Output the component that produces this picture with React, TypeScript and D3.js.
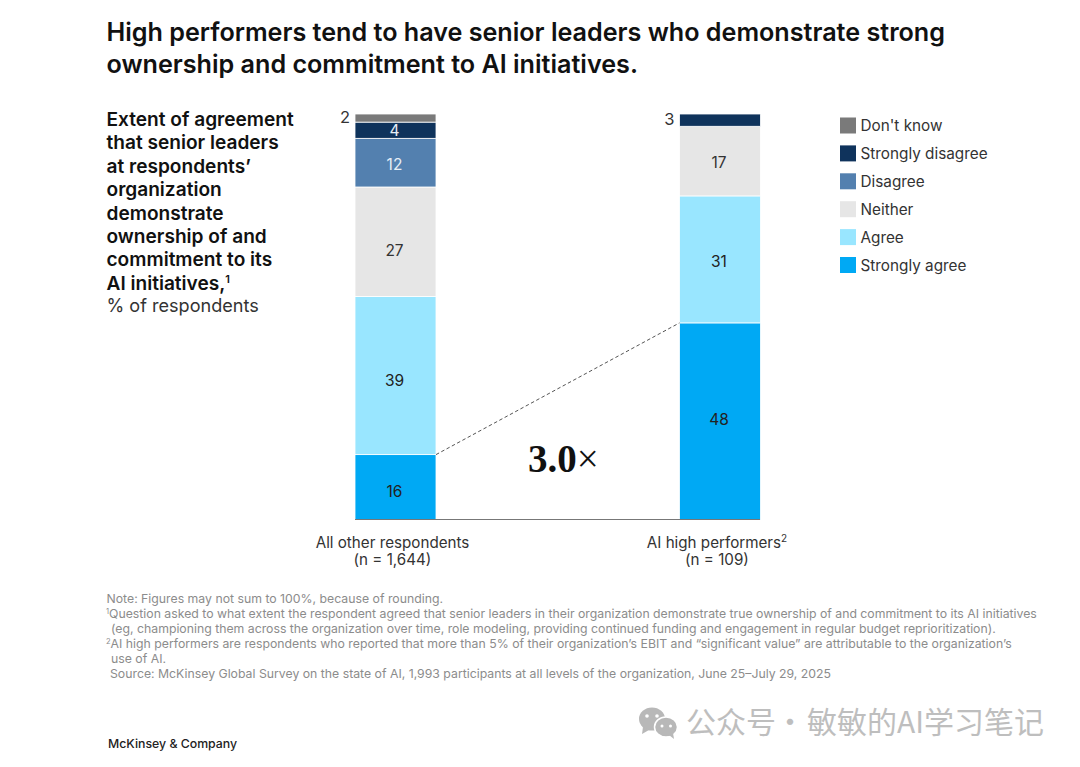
import * as d3 from "d3";

const TITLE = [
  "High performers tend to have senior leaders who demonstrate strong",
  "ownership and commitment to AI initiatives.",
];
const SUBTITLE = [
  "Extent of agreement",
  "that senior leaders",
  "at respondents’",
  "organization",
  "demonstrate",
  "ownership of and",
  "commitment to its",
];

const responses = ["Strongly agree", "Agree", "Neither", "Disagree", "Strongly disagree", "Don't know"];
const colors = ["#00A9F4", "#99E6FF", "#E6E6E6", "#5380AF", "#0F335C", "#7A7A7A"];
const labelColors = ["#222222", "#222222", "#333333", "#E6EEF6", "#E6EEF6", "#333333"];

const otherValues = [16, 39, 27, 12, 4, 2];
const highValues = [48, 31, 17, 0, 3, 0];

const NOTES = [
  "Note: Figures may not sum to 100%, because of rounding.",
  "Question asked to what extent the respondent agreed that senior leaders in their organization demonstrate true ownership of and commitment to its AI initiatives",
  "(eg, championing them across the organization over time, role modeling, providing continued funding and engagement in regular budget reprioritization).",
  "AI high performers are respondents who reported that more than 5% of their organization’s EBIT and “significant value” are attributable to the organization’s",
  "use of AI.",
  "Source: McKinsey Global Survey on the state of AI, 1,993 participants at all levels of the organization, June 25–July 29, 2025",
];

const SANS = "Inter, 'Liberation Sans', sans-serif";
const CJK = "'Noto Sans CJK SC', sans-serif";

const top = 114;
const base = 519.5;
const barW = 81;

// the original labels don't sit exactly mid-segment
const otherNudge = [4, 4, 8, 1, 0, 0];
const highNudge = [-2, 2, 1, 0, 0, 0];

function Bar({ values, x, nudge }: { values: number[]; x: number; nudge: number[] }) {
  // each column is stretched to full height because rounded values don't always sum to 100
  const y = d3.scaleLinear().domain([0, d3.sum(values)]).range([base, top]);
  const row = Object.fromEntries(responses.map((r, i) => [r, values[i]]));
  const series = d3.stack<any>().keys(responses)([row]);
  return (
    <g>
      {series.map((s, i) => {
        const [y0, y1] = s[0];
        if (y1 === y0) return null;
        const v = values[i];
        const mid = (y(y0) + y(y1)) / 2 + nudge[i];
        const outside = v < 4;
        return (
          <g key={s.key}>
            <rect x={x} y={y(y1)} width={barW} height={y(y0) - y(y1)} fill={colors[i]} stroke="#fff" strokeWidth={0.8} />
            <text
              x={outside ? x - 5 : x + barW / 2 - 1}
              y={outside ? mid - 1 : mid + 0.5}
              textAnchor={outside ? "end" : "middle"}
              dominantBaseline="central"
              fontSize={outside ? 16.5 : 15.5}
              fill={outside ? "#333" : labelColors[i]}
            >
              {v}
            </text>
          </g>
        );
      })}
    </g>
  );
}

export default function App() {
  const otherY = d3.scaleLinear().domain([0, d3.sum(otherValues)]).range([base, top]);
  const highY = d3.scaleLinear().domain([0, d3.sum(highValues)]).range([base, top]);
  const legendOrder = d3.range(responses.length).reverse();

  return (
    <svg
      width={1080}
      height={767}
      viewBox="0 0 1080 767"
      style={{ position: "absolute", left: 0, top: 0, background: "#fff" }}
      fontFamily={SANS}
    >
      {TITLE.map((t, i) => (
        <text key={i} x={106.5} y={40.5 + i * 32} fontSize={25.15} fontWeight={600} fill="#111">
          {t}
        </text>
      ))}

      {SUBTITLE.map((t, i) => (
        <text key={i} x={106.5} y={126 + i * 23.4} fontSize={19.1} fontWeight={600} fill="#111">
          {t}
        </text>
      ))}
      <text x={106.5} y={289.5} fontSize={19.1} fontWeight={600} fill="#111">
        AI initiatives,
        <tspan fontSize={11} dy={-7}>1</tspan>
      </text>
      <text x={106.5} y={312} fontSize={18.1} fill="#333">% of respondents</text>

      <Bar values={otherValues} x={355} nudge={otherNudge} />
      <Bar values={highValues} x={679.5} nudge={highNudge} />

      <line x1={355} x2={760} y1={base} y2={base} stroke="#777" strokeWidth={1} />
      <line
        x1={436}
        y1={otherY(otherValues[0])}
        x2={679.5}
        y2={highY(highValues[0])}
        stroke="#555"
        strokeWidth={1}
        strokeDasharray="3.5 2.5"
      />
      <text x={528} y={472} fontFamily="'Liberation Serif', serif" fontSize={39} fontWeight={700} fill="#111">
        3.0<tspan fontWeight={400}>×</tspan>
      </text>

      <g fontSize={15.2} fill="#333" textAnchor="middle">
        <text x={392.5} y={548}>All other respondents</text>
        <text x={392.5} y={565}>(n = 1,644)</text>
        <text x={717} y={548}>
          AI high performers<tspan fontSize={10} dy={-6}>2</tspan>
        </text>
        <text x={717} y={565}>(n = 109)</text>
      </g>

      {legendOrder.map((i, k) => (
        <g key={responses[i]} transform={`translate(840,${117.5 + k * 27.9})`}>
          <rect width={16} height={16} fill={colors[i]} />
          <text x={20.5} y={8} dominantBaseline="central" fontSize={15.3} fill="#333">
            {responses[i]}
          </text>
        </g>
      ))}

      <g fontSize={12.27} fill="#8C8C8C">
        <text x={106.5} y={603}>{NOTES[0]}</text>
        <text x={106} y={618}>
          <tspan fontSize={7.5} dy={-4}>1</tspan>
          <tspan dy={4}>{NOTES[1]}</tspan>
        </text>
        <text x={111} y={633}>{NOTES[2]}</text>
        <text x={106} y={648}>
          <tspan fontSize={7.5} dy={-4}>2</tspan>
          <tspan dy={4}>{NOTES[3]}</tspan>
        </text>
        <text x={111} y={663}>{NOTES[4]}</text>
        <text x={110} y={678}>{NOTES[5]}</text>
      </g>

      <text x={108} y={748} fontSize={12.3} fontWeight={500} fill="#222">McKinsey &amp; Company</text>

      <g fill="#B8B8B8">
        <ellipse cx={652} cy={719} rx={13} ry={11.5} />
        <path d="M643 727 l-1 7 l7 -4 z" />
        <ellipse cx={666} cy={727} rx={11.5} ry={10} stroke="#fff" strokeWidth={1.5} />
        <path d="M669 735 l5 4 l-1 -6 z" />
      </g>
      <g fill="#fff">
        <circle cx={647} cy={716} r={1.8} />
        <circle cx={657} cy={716} r={1.8} />
        <circle cx={662} cy={726} r={1.5} />
        <circle cx={670.5} cy={726} r={1.5} />
      </g>
      <g fontFamily={CJK} fontSize={30} fill="#BEBEBE">
        <text x={686} y={733}>公众号</text>
        <text x={790} y={733} textAnchor="middle">·</text>
        <text x={807} y={733}>敏敏的AI学习笔记</text>
      </g>
    </svg>
  );
}
